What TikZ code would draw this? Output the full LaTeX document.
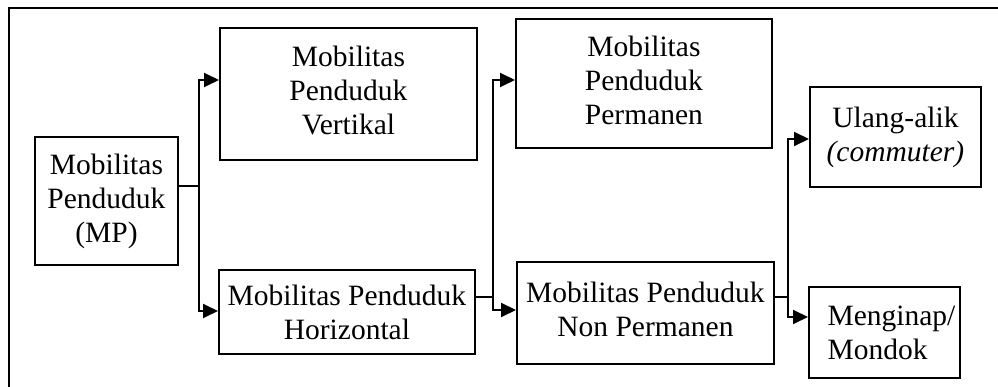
\documentclass[tikz,border=0pt]{standalone}
\usepackage{fontspec}
\setmainfont{Liberation Serif}
\usetikzlibrary{arrows.meta}
\newcommand{\liftup}[2]{\raisebox{#1}{\begin{tabular}{@{}c@{}}#2\end{tabular}}}
\begin{document}
\begin{tikzpicture}[x=1pt,y=-1pt,
  box/.style={draw,line width=1.9pt,rectangle,anchor=north west,inner sep=0pt,
    align=center,font=\fontsize{29.5}{34}\selectfont},
  conn/.style={line width=1.9pt},
  arr/.style={line width=1.9pt,-{Triangle[length=15pt,width=14pt]}}]
\useasboundingbox (0,0) rectangle (998,387);
\fill[white] (0,0) rectangle (998,387);
\draw[line width=2.6pt] (9,387) -- (9,8) -- (998,8);

\node[box,minimum width=143pt,minimum height=128pt] (mp) at (34,136) {Mobilitas\\Penduduk\\(MP)};
\node[box,minimum width=257pt,minimum height=132pt] (vert) at (219,27) {\liftup{5pt}{Mobilitas\\Penduduk\\Vertikal}};
\node[box,minimum width=256pt,minimum height=84pt] (hor) at (218,269) {Mobilitas Penduduk\\Horizontal};
\node[box,minimum width=256pt,minimum height=129pt] (perm) at (515,18) {\liftup{5pt}{Mobilitas\\Penduduk\\Permanen}};
\node[box,minimum width=257pt,minimum height=102pt] (np) at (516,261) {\liftup{6pt}{Mobilitas Penduduk\\Non Permanen}};
\node[box,minimum width=171pt,minimum height=100pt] (ul) at (809,86) {Ulang-alik\\\textit{(commuter)}};
\node[box,align=left,minimum width=151pt,minimum height=91pt] (men) at (808,286) {\hspace*{14pt}Menginap/\\\hspace*{14pt}Mondok};

% branch 1
\coordinate (b1) at (199,186);
\coordinate (b1t) at (199,80);
\coordinate (b1b) at (199,311);
\draw[conn] (b1 -| mp.east) -- (b1);
\draw[arr] (b1) -- (b1t) -- (b1t -| vert.west);
\draw[arr] (b1) -- (b1b) -- (b1b -| hor.west);

% branch 2
\coordinate (b2) at (493,297);
\coordinate (b2t) at (493,80);
\coordinate (b2b) at (493,310);
\draw[conn] (b2 -| hor.east) -- (b2);
\draw[arr] (b2) -- (b2t) -- (b2t -| perm.west);
\draw[arr] (b2) -- (b2b) -- (b2b -| np.west);

% branch 3
\coordinate (b3) at (788,297);
\coordinate (b3t) at (788,139);
\coordinate (b3b) at (788,317);
\draw[conn] (b3 -| np.east) -- (b3);
\draw[arr] (b3) -- (b3t) -- (b3t -| ul.west);
\draw[arr] (b3) -- (b3b) -- (b3b -| men.west);
\end{tikzpicture}
\end{document}
